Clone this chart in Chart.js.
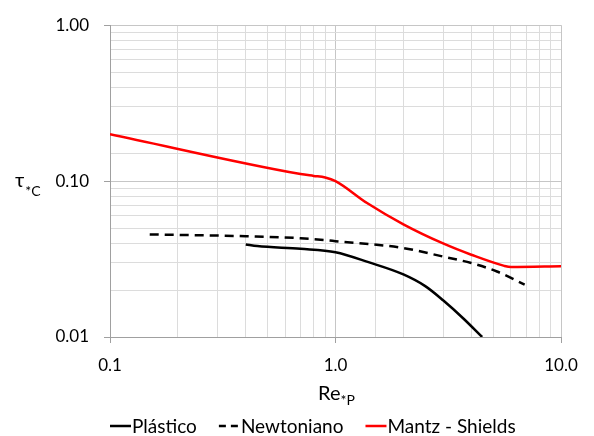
<!DOCTYPE html>
<html>
<head>
<meta charset="utf-8">
<script src="https://cdn.jsdelivr.net/npm/chart.js@4/dist/chart.umd.min.js"></script>
<style>
  html, body { margin: 0; padding: 0; background: #fff; }
  #wrap { width: 594px; height: 436px; position: relative; }
</style>
</head>
<body>
<div id="wrap"><canvas id="c" width="594" height="436"></canvas></div>
<script>
// Particle Reynolds number (x) and critical Shields stress (y) for each curve
const plasticoRe   = [0.40, 0.45, 0.70, 1.00, 1.40, 2.00, 2.50, 3.00, 3.70, 4.47];
const plasticoTau  = [0.0392, 0.0383, 0.0368, 0.0350, 0.0302, 0.0252, 0.0212, 0.0172, 0.0131, 0.0100];

const newtonRe     = [0.15, 0.40, 0.70, 1.00, 2.00, 3.00, 4.00, 5.20, 6.90];
const newtonTau    = [0.0455, 0.0443, 0.0430, 0.0412, 0.0372, 0.0328, 0.0298, 0.0263, 0.0217];

const mantzRe      = [0.10, 0.70, 0.80, 0.90, 1.00, 1.38, 2.00, 3.00, 4.00, 5.60, 6.00, 10.0];
const mantzTau     = [0.200, 0.111, 0.108, 0.1055, 0.100, 0.0723, 0.0528, 0.0398, 0.0337, 0.0286, 0.0281, 0.0284];

const seriesNames  = ['Plástico', 'Newtoniano', 'Mantz - Shields'];
const xTickLabels  = { '0.1': '0.1', '1': '1.0', '10': '10.0' };
const yTickLabels  = { '0.01': '0.01', '0.1': '0.10', '1': '1.00' };

const FONT = 'Lato, "Open Sans", "DejaVu Sans", sans-serif';

function pairs(xs, ys) { return xs.map((x, i) => ({ x: x, y: ys[i] })); }
function isDecade(v) { const l = Math.log10(v); return Math.abs(l - Math.round(l)) < 1e-6; }
function decadeKey(v) { return String(Math.pow(10, Math.round(Math.log10(v)))); }

// Axis titles with subscripts, and a compact line legend
const annotations = {
  id: 'annotations',
  afterDraw(chart) {
    const ctx = chart.ctx;
    ctx.save();
    ctx.fillStyle = '#000';
    ctx.textBaseline = 'alphabetic';

    // y title: τ*C
    ctx.font = '20px ' + FONT;
    ctx.fillText('τ', 15, 187);
    const tw = ctx.measureText('τ').width;
    ctx.font = '14px ' + FONT;
    ctx.fillText('*C', 15 + tw + 1, 196);

    // x title: Re*P, centred under 1.0
    const cx = chart.scales.x.getPixelForValue(1);
    ctx.font = '20px ' + FONT;
    const reW = ctx.measureText('Re').width;
    ctx.font = '14px ' + FONT;
    const subW = ctx.measureText('*P').width;
    const x0 = cx - (reW + subW) / 2 + 1;
    ctx.font = '20px ' + FONT;
    ctx.fillText('Re', x0, 400);
    ctx.font = '14px ' + FONT;
    ctx.fillText('*P', x0 + reW, 405);

    // legend
    let lx = 110;
    const ly = 426;
    chart.data.datasets.forEach((ds) => {
      ctx.save();
      ctx.strokeStyle = ds.borderColor;
      ctx.lineWidth = ds.borderWidth;
      ctx.setLineDash(ds.borderDash ? [7, 5] : []);
      ctx.beginPath();
      ctx.moveTo(lx, ly);
      ctx.lineTo(lx + 21, ly);
      ctx.stroke();
      ctx.restore();
      ctx.font = '19px ' + FONT;
      ctx.textBaseline = 'middle';
      ctx.fillStyle = '#000';
      ctx.fillText(ds.label, lx + 22, ly + 1);
      lx += 22 + ctx.measureText(ds.label).width + 22;
    });
    ctx.restore();
  }
};

const gridColor = (c) => (c.tick && isDecade(c.tick.value)) ? '#c6c6c6' : '#dcdcdc';
const tickColor = (c) => (c.tick && isDecade(c.tick.value)) ? '#a0a0a0' : 'rgba(0,0,0,0)';

new Chart(document.getElementById('c'), {
  type: 'line',
  data: {
    datasets: [
      { label: seriesNames[0], data: pairs(plasticoRe, plasticoTau), borderColor: '#000000', borderWidth: 2.5, cubicInterpolationMode: 'monotone' },
      { label: seriesNames[1], data: pairs(newtonRe, newtonTau), borderColor: '#000000', borderWidth: 2.5, borderDash: [9, 6], cubicInterpolationMode: 'monotone' },
      { label: seriesNames[2], data: pairs(mantzRe, mantzTau), borderColor: '#ff0000', borderWidth: 2.5, cubicInterpolationMode: 'monotone' }
    ]
  },
  options: {
    responsive: false,
    animation: false,
    devicePixelRatio: 1,
    layout: { padding: { top: 18, right: 33, bottom: 0, left: 0 } },
    elements: { point: { radius: 0, hoverRadius: 0 }, line: { fill: false } },
    plugins: { legend: { display: false }, tooltip: { enabled: false } },
    scales: {
      x: {
        type: 'logarithmic',
        min: 0.1, max: 10,
        afterFit(s) { s.height = 99; },
        border: { color: '#a0a0a0', width: 1 },
        grid: { color: gridColor, tickColor: tickColor, tickLength: 6, drawTicks: true },
        ticks: {
          autoSkip: false, maxRotation: 0, padding: 12,
          color: '#000', font: { family: FONT, size: 17 },
          callback: (v) => isDecade(v) ? xTickLabels[decadeKey(v)] : ''
        }
      },
      y: {
        type: 'logarithmic',
        min: 0.01, max: 1,
        afterFit(s) { s.width = 110; },
        border: { color: '#a0a0a0', width: 1 },
        grid: { color: gridColor, tickColor: tickColor, tickLength: 6, drawTicks: true },
        ticks: {
          autoSkip: false, padding: 15,
          color: '#000', font: { family: FONT, size: 17 },
          callback: (v) => isDecade(v) ? yTickLabels[decadeKey(v)] : ''
        }
      }
    }
  },
  plugins: [annotations]
});
</script>
</body>
</html>
